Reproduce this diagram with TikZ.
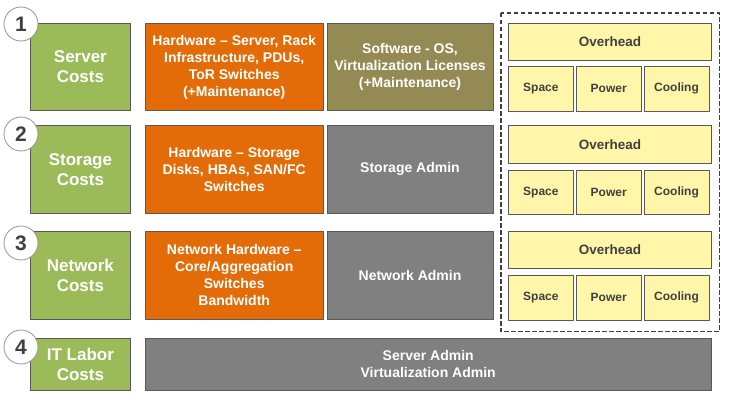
\documentclass[tikz,border=0pt]{standalone}
\usepackage{fontspec}
\setmainfont{Liberation Sans}
\usetikzlibrary{positioning}
\definecolor{costgreen}{RGB}{155,187,89}
\definecolor{hworange}{RGB}{227,108,9}
\definecolor{swolive}{RGB}{148,138,84}
\definecolor{admingrey}{RGB}{128,128,128}
\definecolor{ohyellow}{RGB}{255,246,170}
\definecolor{boxedge}{RGB}{89,89,89}
\definecolor{darktext}{RGB}{64,64,64}
\definecolor{circedge}{RGB}{150,150,150}
\tikzset{
  box/.style={
    draw=boxedge,
    line width=0.8pt,
    anchor=north west,
    align=center,
    inner sep=3pt,
    text=white,
    font=\bfseries\fontsize{14}{17}\selectfont
  },
  costbox/.style={box, fill=costgreen, minimum width=100pt, font=\bfseries\fontsize{17}{20}\selectfont},
  hwbox/.style={box, fill=hworange, minimum width=178pt},
  swbox/.style={box, fill=swolive, minimum width=166pt},
  adminbox/.style={box, fill=admingrey, minimum width=166pt},
  ohbox/.style={box, fill=ohyellow, text=darktext, minimum width=203pt, font=\bfseries\fontsize{13.5}{16}\selectfont},
  facbox/.style={box, fill=ohyellow, text=darktext, minimum width=65pt, font=\bfseries\fontsize{12}{14}\selectfont},
  numcircle/.style={
    circle,
    draw=circedge,
    fill=white,
    line width=0.8pt,
    minimum size=34pt,
    inner sep=0pt,
    text=darktext,
    font=\bfseries\fontsize{21}{24}\selectfont
  },
  zone/.style={draw=darktext, dash pattern=on 4.5pt off 2.5pt, line width=1.3pt}
}

\begin{document}
\begin{tikzpicture}[x=1pt, y=-1pt]
  \useasboundingbox (0,0) rectangle (744,412);

  % 1 - server
  \node[costbox, minimum height=87pt] (server) at (30,23) {Server\\Costs};
  \node[hwbox, right=14pt of server, minimum height=87pt] (serverhw) {Hardware – Server, Rack\\Infrastructure, PDUs,\\ToR Switches\\(+Maintenance)};
  \node[swbox, right=3pt of serverhw, minimum height=87pt] (serversw) {Software - OS,\\Virtualization Licenses\\(+Maintenance)};
  \node[ohbox, minimum height=37pt] (serveroh) at (508,23) {Overhead};
  \node[facbox, below=5pt of serveroh.south west, anchor=north west, minimum height=45pt] (serverspace) {Space};
  \node[facbox, right=2pt of serverspace, minimum height=45pt] (serverpower) {Power};
  \node[facbox, right=2pt of serverpower, minimum height=45pt] (servercool) {Cooling};

  % 2 - storage
  \node[costbox, minimum height=88pt] (storage) at (30,125) {Storage\\Costs};
  \node[hwbox, right=14pt of storage, minimum height=88pt] (storagehw) {Hardware – Storage\\Disks, HBAs, SAN/FC\\Switches};
  \node[adminbox, right=3pt of storagehw, minimum height=88pt] (storageadm) {Storage Admin};
  \node[ohbox, minimum height=38pt] (storageoh) at (508,125) {Overhead};
  \node[facbox, below=6pt of storageoh.south west, anchor=north west, minimum height=44pt] (storagespace) {Space};
  \node[facbox, right=2pt of storagespace, minimum height=44pt] (storagepower) {Power};
  \node[facbox, right=2pt of storagepower, minimum height=44pt] (storagecool) {Cooling};

  % 3 - network
  \node[costbox, minimum height=88pt] (network) at (30,231) {Network\\Costs};
  \node[hwbox, right=14pt of network, minimum height=88pt] (networkhw) {Network Hardware –\\Core/Aggregation\\Switches\\Bandwidth};
  \node[adminbox, right=3pt of networkhw, minimum height=88pt] (networkadm) {Network Admin};
  \node[ohbox, minimum height=37pt] (networkoh) at (508,231) {Overhead};
  \node[facbox, below=6pt of networkoh.south west, anchor=north west, minimum height=45pt] (networkspace) {Space};
  \node[facbox, right=2pt of networkspace, minimum height=45pt] (networkpower) {Power};
  \node[facbox, right=2pt of networkpower, minimum height=45pt] (networkcool) {Cooling};

  % 4 - labor
  \node[costbox, minimum height=52pt] (labor) at (30,338) {IT Labor\\Costs};
  \node[adminbox, right=14pt of labor, minimum width=566pt, minimum height=52pt] (laboradm) {Server Admin\\Virtualization Admin};

  % facilities frame
  \draw[zone] ([shift={(-7,-10)}]serveroh.north west) rectangle ([shift={(10,11)}]networkcool.south east);

  % step numbers
  \node[numcircle] (one) at (21,24) {1};
  \node[numcircle] (two) at (21,134) {2};
  \node[numcircle] (three) at (21,243) {3};
  \node[numcircle] (four) at (21,347) {4};

\end{tikzpicture}
\end{document}
